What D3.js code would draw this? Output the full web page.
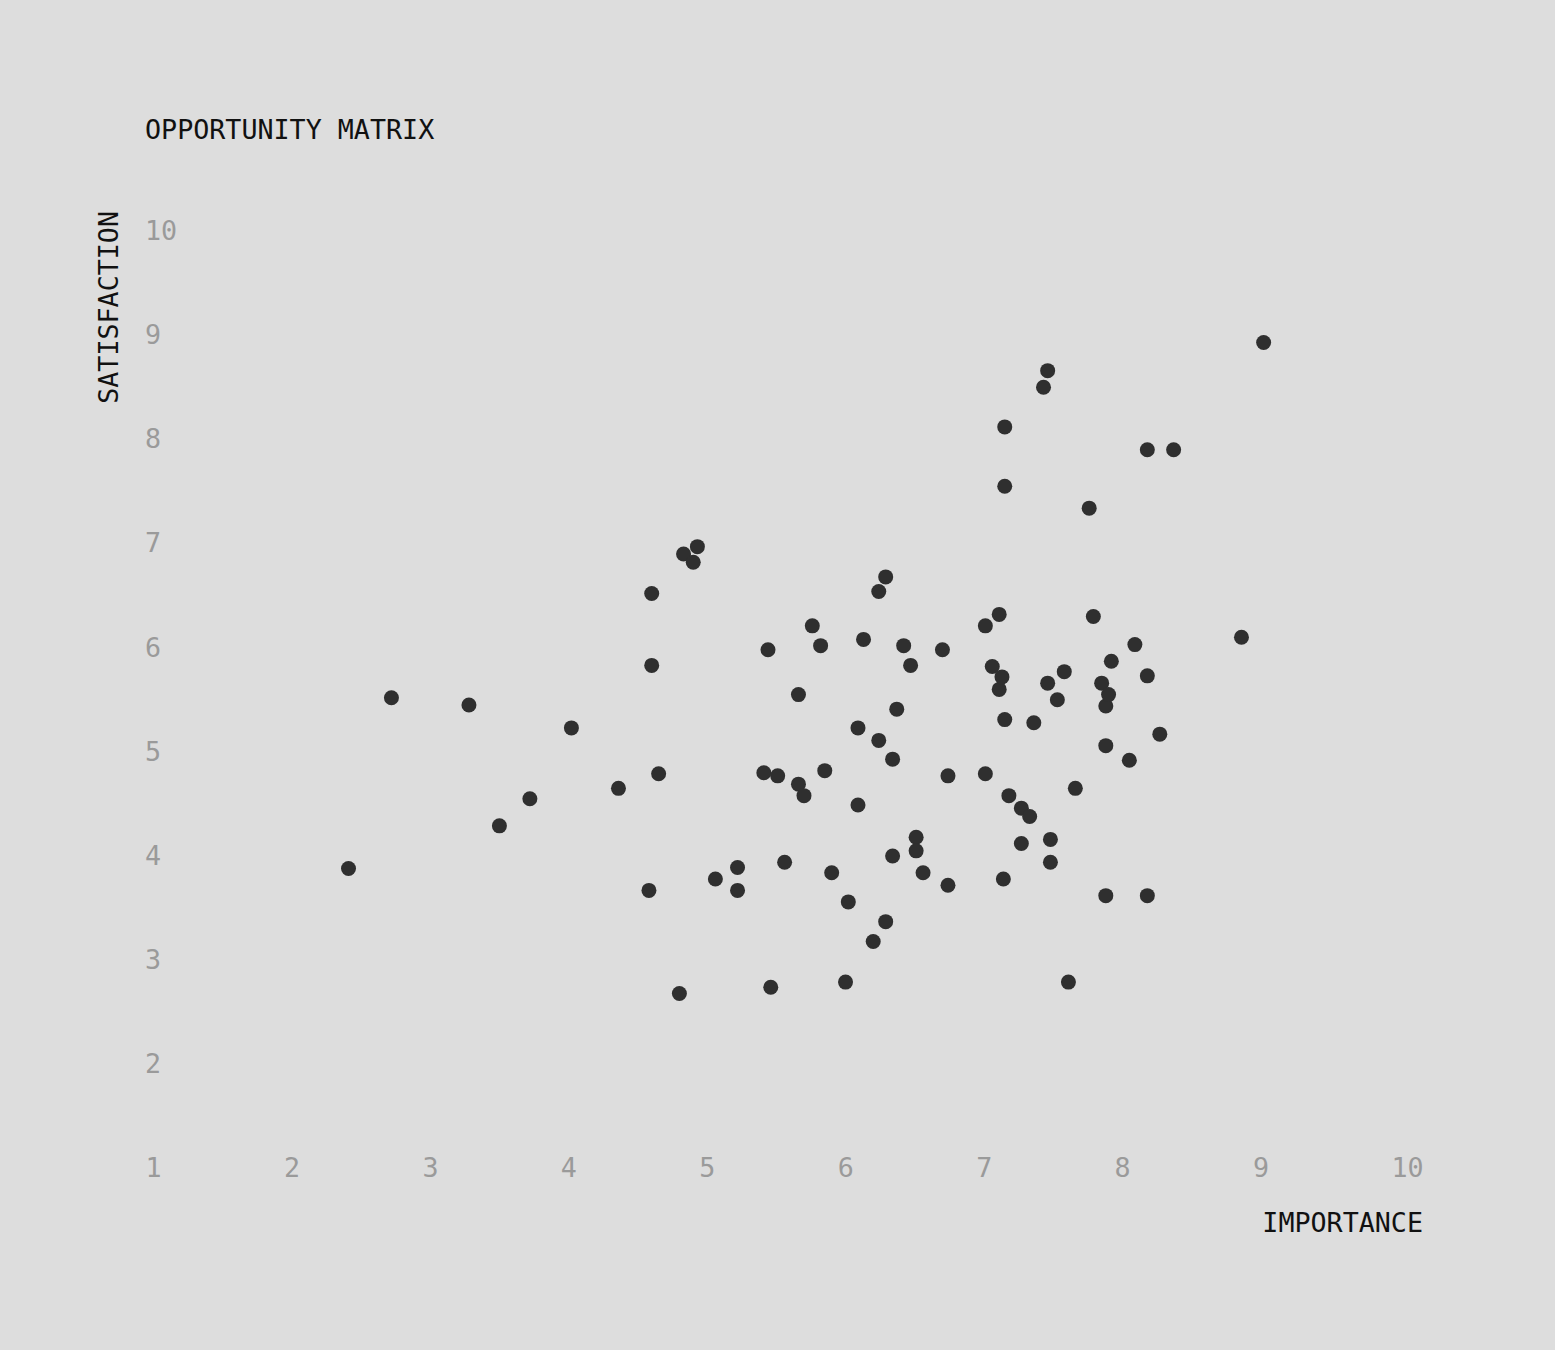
<!DOCTYPE html>
<html>
<head>
<meta charset="utf-8">
<script src="https://cdn.jsdelivr.net/npm/d3@7"></script>
<style>
  html, body { margin: 0; padding: 0; background: #dddddd; }
  svg text { font-family: "DejaVu Sans Mono", "Liberation Mono", monospace; }
</style>
</head>
<body>
<svg id="chart"></svg>
<script>
// importance (x) / satisfaction (y)
var importance = [
  2.47, 2.78, 3.34, 3.56, 3.78, 4.08, 4.42, 4.64, 4.66, 4.66,
  4.71, 4.86, 4.89, 4.96, 4.99, 5.12, 5.28, 5.28, 5.47, 5.50,
  5.52, 5.57, 5.62, 5.72, 5.72, 5.76, 5.82, 5.88, 5.91, 5.96,
  6.06, 6.08, 6.15, 6.15, 6.19, 6.26, 6.30, 6.30, 6.35, 6.35,
  6.40, 6.40, 6.43, 6.48, 6.53, 6.57, 6.57, 6.62, 6.76, 6.80,
  6.80, 7.07, 7.07, 7.12, 7.17, 7.17, 7.19, 7.21, 7.21, 7.21,
  7.20, 7.24, 7.33, 7.33, 7.39, 7.42, 7.49, 7.52, 7.52, 7.54,
  7.54, 7.59, 7.64, 7.67, 7.72, 7.82, 7.85, 7.91, 7.94, 7.94,
  7.94, 7.96, 7.98, 8.11, 8.15, 8.24, 8.24, 8.24, 8.33, 8.43,
  8.92, 9.08
];
var satisfaction = [
  3.87, 5.51, 5.44, 4.28, 4.54, 5.22, 4.64, 3.66, 6.51, 5.82,
  4.78, 2.67, 6.89, 6.81, 6.96, 3.77, 3.88, 3.66, 4.79, 5.97,
  2.73, 4.76, 3.93, 5.54, 4.68, 4.57, 6.20, 6.01, 4.81, 3.83,
  2.78, 3.55, 5.22, 4.48, 6.07, 3.17, 6.53, 5.10, 6.67, 3.36,
  4.92, 3.99, 5.40, 6.01, 5.82, 4.17, 4.04, 3.83, 5.97, 4.76,
  3.71, 4.78, 6.20, 5.81, 6.31, 5.59, 5.71, 8.11, 7.54, 5.30,
  3.77, 4.57, 4.45, 4.11, 4.37, 5.27, 8.49, 8.65, 5.65, 4.15,
  3.93, 5.49, 5.76, 2.78, 4.64, 7.33, 6.29, 5.65, 5.43, 5.05,
  3.61, 5.54, 5.86, 4.91, 6.02, 7.89, 5.72, 3.61, 5.16, 7.89,
  6.09, 8.92
];
var xTicks = [1, 2, 3, 4, 5, 6, 7, 8, 9, 10];
var yTicks = [2, 3, 4, 5, 6, 7, 8, 9, 10];

var title = "OPPORTUNITY MATRIX";
var xTitle = "IMPORTANCE";
var yTitle = "SATISFACTION";

var W = 1555, H = 1350;
var fontSize = 26.7;

var svg = d3.select("#chart")
    .attr("width", W)
    .attr("height", H);

svg.append("rect")
    .attr("width", W).attr("height", H)
    .attr("fill", "#dddddd");

var x = d3.scaleLinear().domain([1, 10]).range([145, 1391]);
var y = d3.scaleLinear().domain([1, 10]).range([1167.5, 230]);

// x tick labels, sitting on the y = 1 row
var gx = svg.append("g")
    .attr("transform", "translate(0," + y(1) + ")")
    .call(d3.axisBottom(x).tickValues(xTicks).tickSize(0).tickFormat(d3.format("d")));
gx.select(".domain").remove();
gx.selectAll("text")
    .attr("y", 0)
    .attr("dy", "0.35em")
    .attr("text-anchor", "start")
    .attr("fill", "#9a9a9a")
    .style("font-size", fontSize + "px")
    .style("font-family", "'DejaVu Sans Mono', monospace");

// y tick labels, on the x = 1 column
var gy = svg.append("g")
    .attr("transform", "translate(" + x(1) + ",0)")
    .call(d3.axisLeft(y).tickValues(yTicks).tickSize(0).tickFormat(d3.format("d")));
gy.select(".domain").remove();
gy.selectAll("text")
    .attr("x", 0)
    .attr("dy", "0.35em")
    .attr("text-anchor", "start")
    .attr("fill", "#9a9a9a")
    .style("font-size", fontSize + "px")
    .style("font-family", "'DejaVu Sans Mono', monospace");

// points
var pts = importance.map(function(d, i){ return {x: d, y: satisfaction[i]}; });
svg.append("g")
  .selectAll("circle")
    .data(pts)
    .enter()
    .append("circle")
    .attr("cx", function(d){ return x(d.x); })
    .attr("cy", function(d){ return y(d.y); })
    .attr("r", 7.5)
    .attr("fill", "#2f2f2f");

// titles
svg.append("text")
    .attr("x", 145)
    .attr("y", 139)
    .attr("fill", "#111")
    .style("font-size", fontSize + "px")
    .text(title);

svg.append("text")
    .attr("x", 1423)
    .attr("y", 1232)
    .attr("text-anchor", "end")
    .attr("fill", "#111")
    .style("font-size", fontSize + "px")
    .text(xTitle);

svg.append("text")
    .attr("transform", "translate(118,211) rotate(-90)")
    .attr("text-anchor", "end")
    .attr("fill", "#111")
    .style("font-size", fontSize + "px")
    .text(yTitle);
</script>
</body>
</html>
